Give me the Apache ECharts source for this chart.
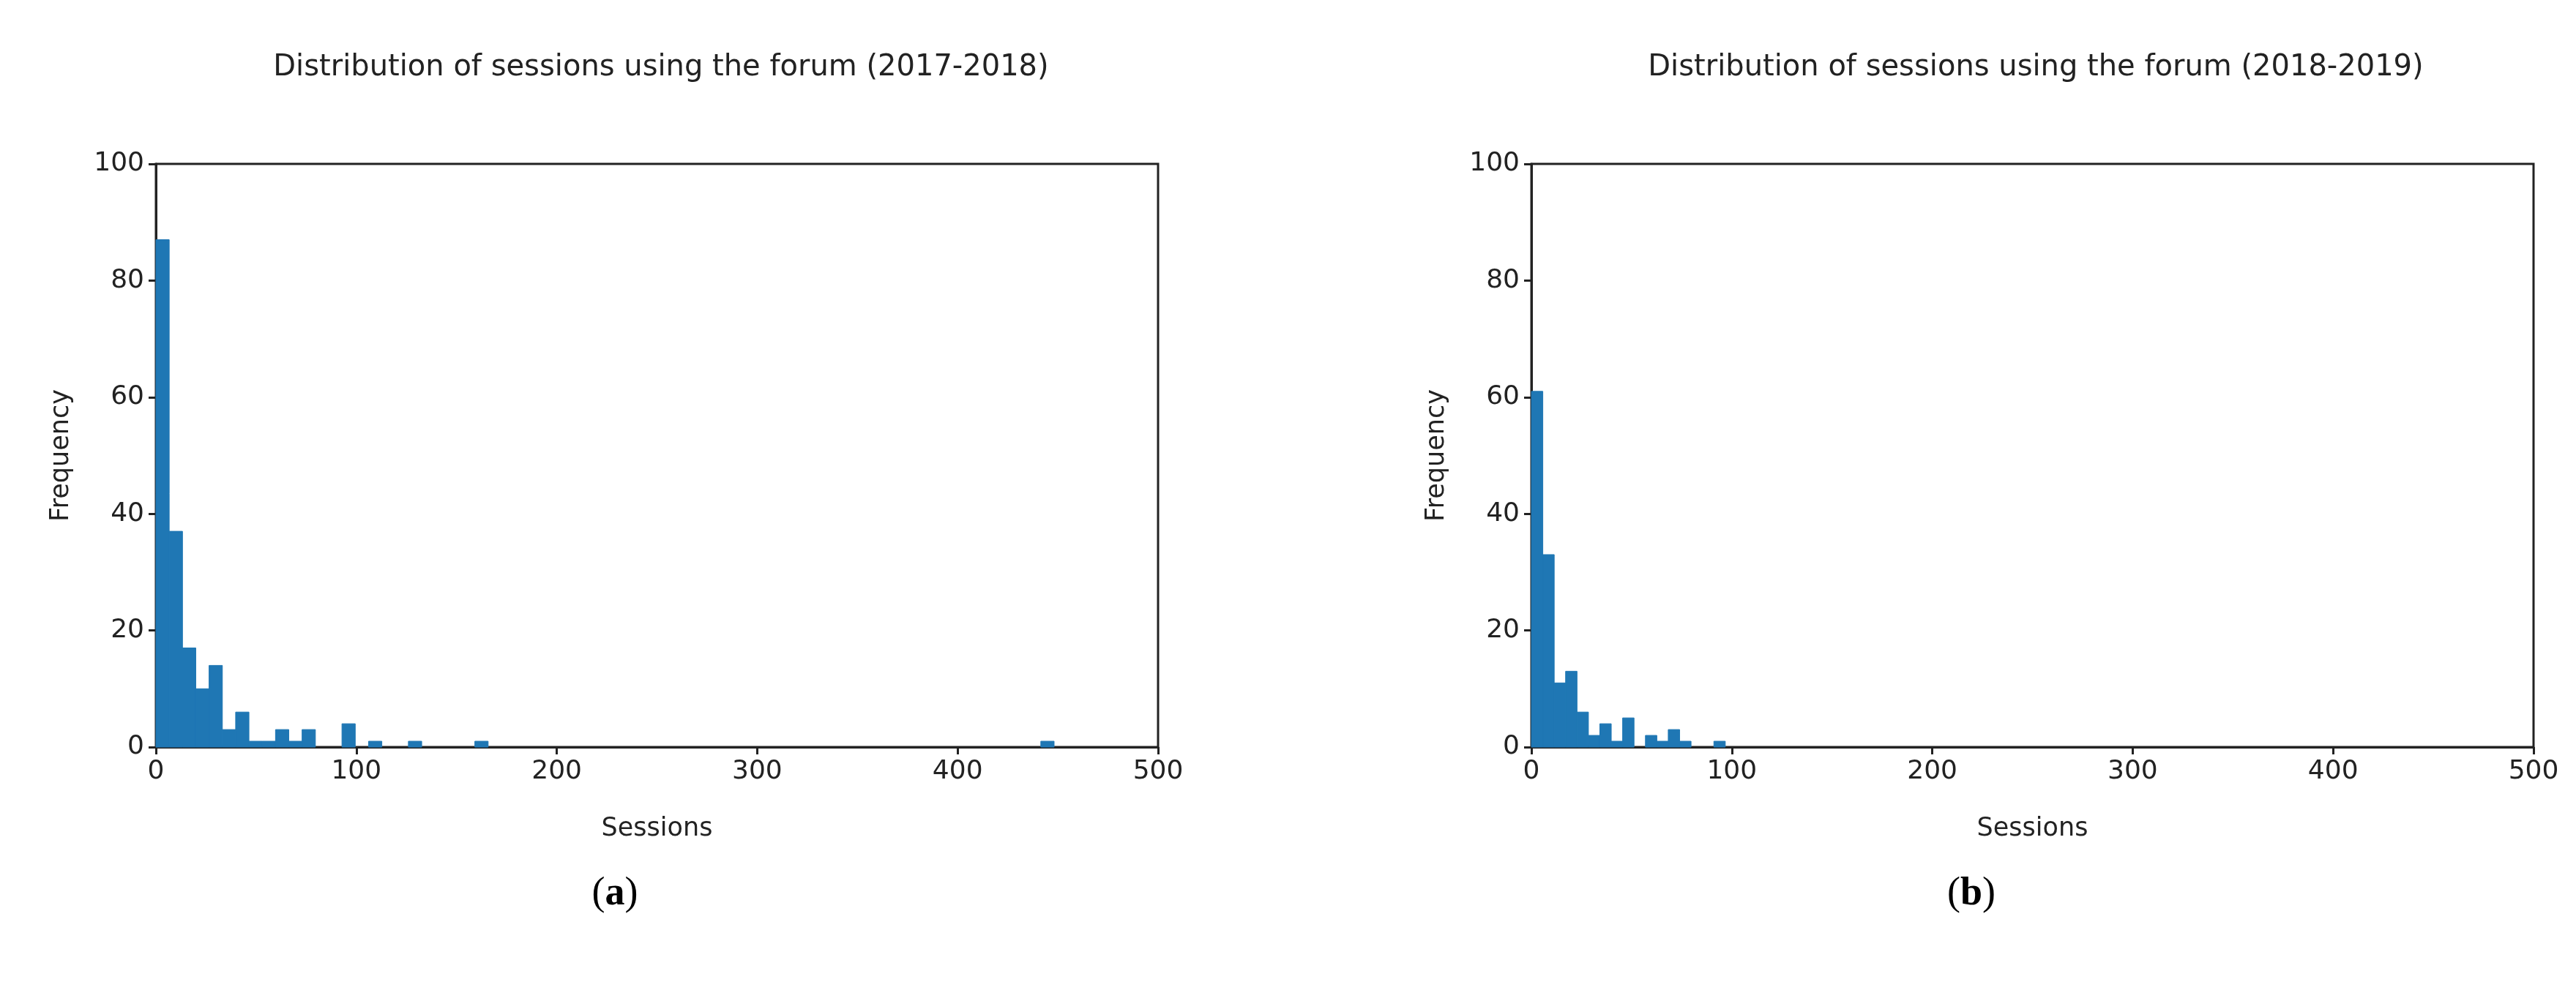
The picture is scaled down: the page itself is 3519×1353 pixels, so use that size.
<!DOCTYPE html>
<html><head><meta charset="utf-8">
<script src="https://cdn.jsdelivr.net/npm/echarts@6/dist/echarts.min.js"></script>
<style>html,body{margin:0;padding:0;background:#fff}#c{width:3519px;height:1353px}</style>
</head><body><div id="c"></div>
<script>
const titles = ['Distribution of sessions using the forum (2017-2018)','Distribution of sessions using the forum (2018-2019)'];
const panelLabels = ['a','b'];
const xTicks = [0,100,200,300,400,500];
const yTicks = [0,20,40,60,80,100];
// chart (a): bin lower edges and counts
const binStartA = [0,6.63,13.26,19.89,26.52,33.15,39.78,46.41,53.04,59.67,66.3,72.93,92.82,106.08,125.97,159.12,441.5];
const countA    = [87,37,17,10,14,3,6,1,1,3,1,3,4,1,1,1,1];
const binWidthA = 6.63;
// chart (b)
const binStartB = [0,5.69,11.38,17.07,22.76,28.45,34.14,39.83,45.52,56.9,62.59,68.28,73.97,91.04];
const countB    = [61,33,11,13,6,2,4,1,5,2,1,3,1,1];
const binWidthB = 5.69;

const font = 'DejaVu Sans';
const chart = echarts.init(document.getElementById('c'));
function histSeries(idx, starts, counts, w){
  return {
    type:'custom', xAxisIndex:idx, yAxisIndex:idx,
    data: starts.map((s,i)=>[s, s+w, counts[i]]),
    encode:{x:[0,1], y:2},
    renderItem:(params, api)=>{
      const p0 = api.coord([api.value(0), api.value(2)]);
      const p1 = api.coord([api.value(1), 0]);
      return {type:'rect', shape:{x:p0[0], y:p0[1], width:p1[0]-p0[0], height:p1[1]-p0[1]}, style:{fill:'#1f77b4', stroke:'#1f77b4', lineWidth:1}};
    }
  };
}
const lefts = [213, 2092];
const grids = lefts.map(l=>({left:l, top:224, width:1369, height:797, show:true, borderColor:'#222', borderWidth:3, containLabel:false}));
function xAx(i){return {gridIndex:i, type:'value', min:0, max:500, interval:100,
  name:'Sessions', nameLocation:'middle', nameGap:94, nameTextStyle:{fontFamily:font, fontSize:35, color:'#222'},
  axisLine:{show:true, lineStyle:{color:'#222', width:3}}, axisTick:{show:true, length:10, lineStyle:{color:'#222', width:3}},
  axisLabel:{fontFamily:font, fontSize:36, color:'#222', margin:16}, splitLine:{show:false}};}
function yAx(i){return {gridIndex:i, type:'value', min:0, max:100, interval:20,
  name:'Frequency', nameLocation:'middle', nameGap:112, nameTextStyle:{fontFamily:font, fontSize:35, color:'#222'},
  axisLine:{show:true, lineStyle:{color:'#222', width:3}}, axisTick:{show:true, length:10, lineStyle:{color:'#222', width:3}},
  axisLabel:{fontFamily:font, fontSize:36, color:'#222', margin:16}, splitLine:{show:false}};}
chart.setOption({
  animation:false,
  title: [
    {text:titles[0], left:898, top:68, textAlign:'center', textStyle:{fontFamily:font, fontSize:40, fontWeight:'normal', color:'#222'}},
    {text:titles[1], left:2776, top:68, textAlign:'center', textStyle:{fontFamily:font, fontSize:40, fontWeight:'normal', color:'#222'}},
    {text:'({a|'+panelLabels[0]+'})', left:835, top:1190, textAlign:'center', textStyle:{fontFamily:'Liberation Serif', fontSize:54, fontWeight:'normal', color:'#000', rich:{a:{fontFamily:'Liberation Serif', fontSize:54, fontWeight:'bold', color:'#000'}}}},
    {text:'({a|'+panelLabels[1]+'})', left:2688, top:1190, textAlign:'center', textStyle:{fontFamily:'Liberation Serif', fontSize:54, fontWeight:'normal', color:'#000', rich:{a:{fontFamily:'Liberation Serif', fontSize:54, fontWeight:'bold', color:'#000'}}}}
  ],
  grid: grids,
  xAxis:[xAx(0), xAx(1)],
  yAxis:[yAx(0), yAx(1)],
  series:[histSeries(0, binStartA, countA, binWidthA), histSeries(1, binStartB, countB, binWidthB)]
});
</script></body></html>
